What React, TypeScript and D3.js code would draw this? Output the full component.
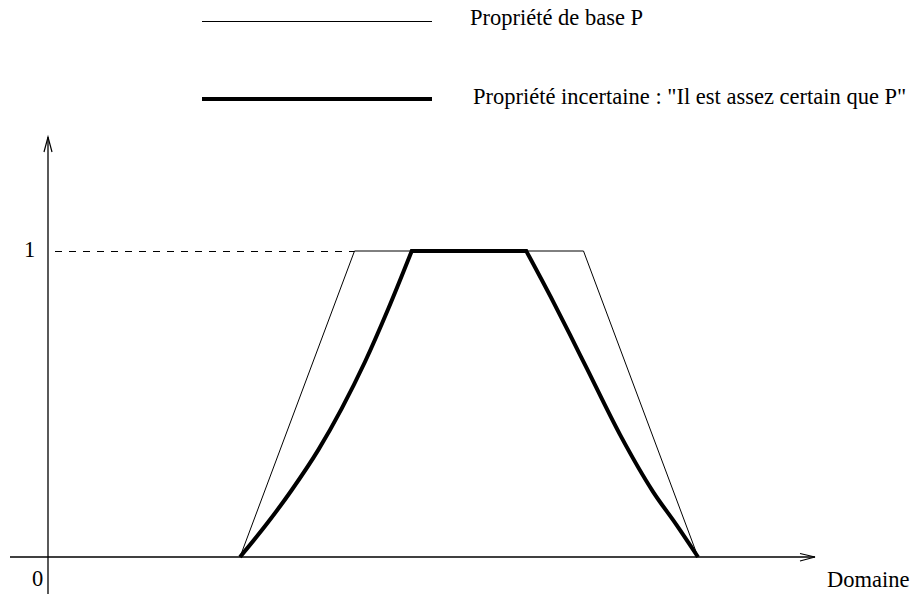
import React from "react";
import * as d3 from "d3";

// Base property P: trapezoidal membership function
const baseX = [0, 2.5, 7.5, 10];
const baseY = [0, 1, 1, 0];

// Modified property "assez certain que P": rising flank, core, falling flank
const riseX = [0, 0.62, 1.13, 1.71, 2.22, 2.73, 3.24, 3.75];
const riseY = [0, 0.115, 0.219, 0.35, 0.485, 0.638, 0.812, 1];
const fallX = [6.25, 6.84, 7.21, 7.57, 8.3, 9.02, 9.53, 10];
const fallY = [1, 0.834, 0.725, 0.617, 0.399, 0.213, 0.105, 0];

const yTickValues = [0, 1];
const yTickLabels = ["0", "1"];
const xAxisLabel = "Domaine";
const legendLabels = [
  "Propriété de base P",
  "Propriété incertaine : \"Il est assez certain que P\"",
];

const W = 918;
const H = 595;
const FONT = "'Times New Roman', 'Liberation Serif', Times, serif";
const FS = 22.5;

export default function App() {
  const x = d3.scaleLinear().domain([0, 10]).range([240, 698]);
  const y = d3.scaleLinear().domain([0, 1]).range([557, 251]);

  const xAxisStart = x.invert(10);
  const xAxisEnd = x.invert(815);
  const yAxisPos = x.invert(48);
  const yAxisTop = y.invert(137);
  const yAxisBottom = y.invert(594);

  const basePts: [number, number][] = baseX.map((v, i) => [v, baseY[i]]);
  const risePts: [number, number][] = riseX.map((v, i) => [v, riseY[i]]);
  const fallPts: [number, number][] = fallX.map((v, i) => [v, fallY[i]]);

  const straight = d3
    .line<[number, number]>()
    .x((d) => x(d[0]))
    .y((d) => y(d[1]));
  const smooth = d3
    .line<[number, number]>()
    .x((d) => x(d[0]))
    .y((d) => y(d[1]))
    .curve(d3.curveMonotoneX);

  const basePath = straight(basePts) || "";
  // one continuous path: curved rise, straight core, curved fall
  const thickPath =
    (smooth(risePts) || "") + (smooth(fallPts) || "").replace(/^M/, "L");

  const ax0 = x(yAxisPos);
  const ay0 = y(0);
  const xEnd = x(xAxisEnd);
  const yTop = y(yAxisTop);

  const textStyle = { fontFamily: FONT, fontSize: FS };

  return (
    <div style={{ position: "fixed", left: 0, top: 0 }}>
      <svg width={W} height={H} viewBox={`0 0 ${W} ${H}`} style={{ display: "block", background: "#fff" }}>
        {/* legend */}
        <line x1={202} x2={432} y1={21.5} y2={21.5} stroke="#000" strokeWidth={1} />
        <text x={470} y={25} style={textStyle} fill="#000">
          {legendLabels[0]}
        </text>
        <line x1={202} x2={432} y1={99} y2={99} stroke="#000" strokeWidth={4} />
        <text x={473} y={104} style={textStyle} fill="#000">
          {legendLabels[1]}
        </text>

        {/* axes */}
        <line x1={x(xAxisStart)} x2={xEnd} y1={ay0} y2={ay0} stroke="#000" strokeWidth={1.3} />
        <polyline
          points={`${xEnd - 15},${ay0 - 3.5} ${xEnd},${ay0} ${xEnd - 15},${ay0 + 4}`}
          fill="none"
          stroke="#000"
          strokeWidth={1.2}
        />
        <line x1={ax0} x2={ax0} y1={y(yAxisBottom)} y2={yTop} stroke="#000" strokeWidth={1.3} />
        <polyline
          points={`${ax0 - 4},${yTop + 15} ${ax0},${yTop} ${ax0 + 4},${yTop + 15}`}
          fill="none"
          stroke="#000"
          strokeWidth={1.2}
        />

        {/* level 1 guide */}
        <line
          x1={ax0 + 7}
          x2={x(2.5)}
          y1={y(1) + 0.5}
          y2={y(1) + 0.5}
          stroke="#000"
          strokeWidth={1}
          strokeDasharray="7 7"
        />

        {/* tick labels */}
        <text x={24} y={y(yTickValues[1]) + 6} style={textStyle} fill="#000">
          {yTickLabels[1]}
        </text>
        <text x={32} y={y(yTickValues[0]) + 29} style={textStyle} fill="#000">
          {yTickLabels[0]}
        </text>
        <text x={827} y={587} style={textStyle} fill="#000">
          {xAxisLabel}
        </text>

        {/* membership functions */}
        <path d={basePath} fill="none" stroke="#000" strokeWidth={1} strokeLinejoin="miter" />
        <path d={thickPath} fill="none" stroke="#000" strokeWidth={4} strokeLinejoin="miter" />
      </svg>
    </div>
  );
}
